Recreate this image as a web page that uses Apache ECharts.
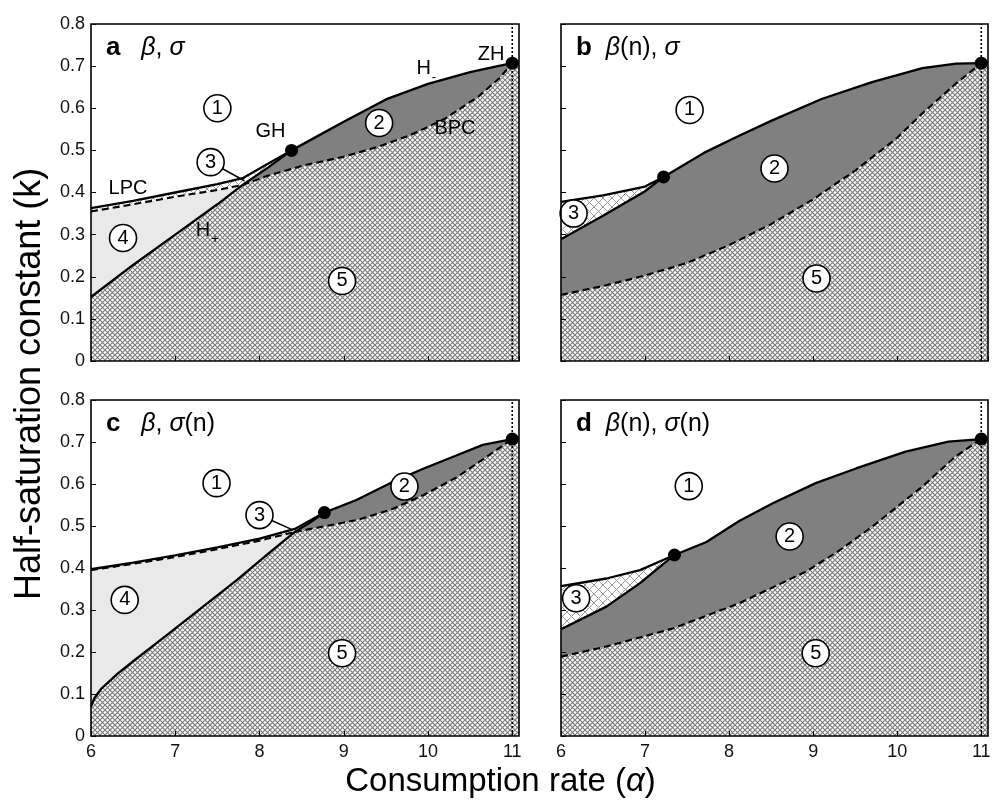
<!DOCTYPE html>
<html><head><meta charset="utf-8">
<script src="https://cdn.jsdelivr.net/npm/echarts@6/dist/echarts.min.js"></script>
<style>html,body{margin:0;padding:0;background:#fff}#c{width:1001px;height:803px}</style>
</head><body><div id="c"></div>
<script>
// ---------- tick labels ----------
const xTickLabels = ['6','7','8','9','10','11'];
const yTickLabels = ['0','0.1','0.2','0.3','0.4','0.5','0.6','0.7','0.8'];

// ---------- panel a : beta, sigma ----------
const aLPC       = [[6,0.363],[6.5,0.38],[7,0.40],[7.5,0.42],[7.8,0.434],[8.1,0.468],[8.38,0.50]];
const aHminus    = [[8.38,0.50],[8.7,0.535],[9.0,0.568],[9.5,0.621],[10.0,0.658],[10.5,0.686],[10.8,0.699],[11,0.707]];
const aHplusLow  = [[6,0.152],[6.5,0.228],[7,0.30],[7.5,0.372],[7.8,0.418]];
const aHplusHigh = [[7.8,0.418],[8.1,0.459],[8.38,0.50]];
const aLPCdash   = [[6,0.355],[6.5,0.372],[7,0.39],[7.5,0.406],[7.8,0.418]];
const aBPC       = [[7.8,0.418],[8.1,0.44],[8.5,0.463],[9,0.485],[9.4,0.508],[9.8,0.537],[10.2,0.575],[10.6,0.628],[10.85,0.672],[11,0.707]];
const aDots      = [[8.38,0.50],[11,0.707]];
const aCircles   = [[7.5,0.60,1],[9.42,0.565,2],[7.42,0.472,3],[6.38,0.292,4],[8.98,0.19,5]];
const aLeader    = [[7.42,0.472],[7.82,0.428]];
const aTexts     = [[8.13,0.545,'GH'],[6.44,0.41,'LPC'],[7.33,0.31,'H_+'],[9.95,0.694,'H_-'],[10.75,0.727,'ZH'],[10.32,0.553,'BPC']];

// ---------- panel b : beta(n), sigma ----------
const bLPC    = [[6,0.378],[6.5,0.393],[7,0.414],[7.22,0.437]];
const bHminus = [[7.22,0.437],[7.7,0.494],[8.1,0.533],[8.5,0.57],[9.1,0.622],[9.7,0.662],[10.3,0.695],[10.7,0.706],[11,0.707]];
const bHplus  = [[6,0.289],[6.5,0.345],[7,0.403],[7.22,0.437]];
const bBPC    = [[6,0.157],[6.5,0.178],[7,0.203],[7.5,0.233],[8,0.275],[8.5,0.325],[9,0.384],[9.5,0.452],[10,0.53],[10.3,0.588],[10.7,0.659],[11,0.707]];
const bDots   = [[7.22,0.437],[11,0.707]];
const bCircles= [[7.53,0.596,1],[8.54,0.457,2],[6.15,0.35,3],[9.04,0.196,5]];

// ---------- panel c : beta, sigma(n) ----------
const cLPC       = [[6,0.397],[6.5,0.413],[7,0.43],[7.5,0.449],[8,0.47],[8.42,0.493],[8.6,0.513],[8.77,0.532]];
const cHminus    = [[8.77,0.532],[9.15,0.562],[9.55,0.602],[9.95,0.637],[10.35,0.669],[10.65,0.693],[11,0.707]];
const cHplusLow  = [[6,0.07],[6.04,0.09],[6.12,0.112],[6.32,0.149],[6.52,0.181],[6.93,0.245],[7.33,0.308],[7.73,0.371],[8.14,0.44],[8.42,0.486]];
const cHplusHigh = [[8.42,0.486],[8.6,0.508],[8.77,0.532]];
const cLPCdash   = [[6,0.395],[6.5,0.41],[7,0.426],[7.5,0.445],[8,0.465],[8.42,0.486]];
const cBPC       = [[8.42,0.486],[8.74,0.498],[9.15,0.514],[9.55,0.538],[9.95,0.574],[10.35,0.617],[10.67,0.661],[11,0.707]];
const cDots      = [[8.77,0.532],[11,0.707]];
const cCircles   = [[7.49,0.602,1],[9.72,0.594,2],[8.0,0.526,3],[6.4,0.324,4],[8.98,0.197,5]];
const cLeader    = [[8.0,0.526],[8.38,0.492]];

// ---------- panel d : beta(n), sigma(n) ----------
const dLPC    = [[6,0.357],[6.54,0.375],[6.94,0.395],[7.35,0.431]];
const dHminus = [[7.35,0.431],[7.73,0.462],[8.12,0.512],[8.52,0.554],[9.03,0.602],[9.51,0.637],[10.1,0.677],[10.61,0.701],[11,0.707]];
const dHplus  = [[6,0.254],[6.54,0.308],[6.94,0.364],[7.35,0.431]];
const dBPC    = [[6,0.189],[6.54,0.213],[7.33,0.256],[8.12,0.316],[8.91,0.391],[9.3,0.44],[9.7,0.498],[10.3,0.594],[10.69,0.665],[11,0.707]];
const dDots   = [[7.35,0.431],[11,0.707]];
const dCircles= [[7.52,0.595,1],[8.72,0.475,2],[6.18,0.328,3],[9.03,0.197,5]];

const panelTitles = [
  '{L|a}{n|   }{g|β}{n|, }{g|σ}',
  '{L|b}{n|  }{g|β}{n|(n), }{g|σ}',
  '{L|c}{n|   }{g|β}{n|, }{g|σ}{n|(n)}',
  '{L|d}{n|  }{g|β}{n|(n), }{g|σ}{n|(n)}'
];

const X_MIN = 6, X_MAX = 11.08, Y_MIN = 0, Y_MAX = 0.8;
const FONT = '"Liberation Sans", Arial, Helvetica, sans-serif';

function mkPattern(size, color, lw) {
  const c = document.createElement('canvas'); c.width = c.height = size;
  const g = c.getContext('2d');
  g.fillStyle = '#fff'; g.fillRect(0, 0, size, size);
  g.strokeStyle = color; g.lineWidth = lw;
  g.beginPath();
  g.moveTo(-1, -1); g.lineTo(size + 1, size + 1);
  g.moveTo(size + 1, -1); g.lineTo(-1, size + 1);
  g.stroke();
  return { image: c, repeat: 'repeat' };
}
const FINE = mkPattern(5, '#7a7a7a', 1.1);
const COARSE = mkPattern(9, '#999', 1);
const LIGHT = '#e9e9e9';
const DARK = '#808080';

const rev = a => a.slice().reverse();
const grids = [
  { left: 91, top: 24, width: 428, height: 337 },
  { left: 561, top: 24, width: 427, height: 337 },
  { left: 91, top: 400, width: 428, height: 336 },
  { left: 561, top: 400, width: 427, height: 336 }
];

const series = [];
function addPoly(g, pts, fill) {
  series.push({
    type: 'custom', xAxisIndex: g, yAxisIndex: g, z: 1, silent: true, clip: true,
    data: [[pts[0][0], pts[0][1]]],
    renderItem: (p, api) => ({
      type: 'polygon',
      shape: { points: pts.map(q => api.coord(q)) },
      style: { fill: fill, lineWidth: 0, stroke: null }
    })
  });
}
function addLine(g, pts, type, width, z) {
  series.push({
    type: 'line', xAxisIndex: g, yAxisIndex: g, data: pts, symbol: 'none', showSymbol: false,
    silent: true, z: z || 4,
    lineStyle: { color: '#000', width: width || 2.3, type: type || 'solid' }
  });
}
function addDots(g, pts) {
  series.push({
    type: 'scatter', xAxisIndex: g, yAxisIndex: g, data: pts, symbol: 'circle', symbolSize: 13,
    silent: true, z: 5, itemStyle: { color: '#000', opacity: 1 }
  });
}
function addCircles(g, arr) {
  series.push({
    type: 'scatter', xAxisIndex: g, yAxisIndex: g, silent: true, z: 7, symbol: 'circle', symbolSize: 27,
    data: arr.map(c => ({ value: [c[0], c[1]], name: String(c[2]) })),
    itemStyle: { color: '#fff', borderColor: '#000', borderWidth: 1.6, opacity: 1 },
    label: { show: true, position: 'inside', formatter: '{b}', color: '#000', fontSize: 20, fontFamily: FONT, textBorderWidth: 0 }
  });
}
function addTexts(g, arr) {
  const data = [];
  arr.forEach(t => {
    if (t[2].indexOf('_') > 0) {
      const [m, s] = t[2].split('_');
      data.push({ value: [t[0], t[1]], name: m });
      data.push({ value: [t[0], t[1]], name: s, label: { fontSize: 13, offset: [s === '+' ? 12 : 10, 9] } });
    } else data.push({ value: [t[0], t[1]], name: t[2] });
  });
  series.push({
    type: 'scatter', xAxisIndex: g, yAxisIndex: g, silent: true, z: 7, symbolSize: 0,
    data: data, itemStyle: { color: '#000', opacity: 1 },
    label: { show: true, position: 'inside', formatter: '{b}', color: '#000', opacity: 1,
      textBorderWidth: 0, textBorderColor: 'transparent', fontSize: 20, fontFamily: FONT }
  });
}

// ---- panel a & c (same topology) ----
[[0, aLPC, aHminus, aHplusLow, aHplusHigh, aLPCdash, aBPC, aDots, aCircles, aLeader],
 [2, cLPC, cHminus, cHplusLow, cHplusHigh, cLPCdash, cBPC, cDots, cCircles, cLeader]].forEach(P => {
  const [g, LPC, Hm, HpL, HpH, LD, BPC, dots, circ, lead] = P;
  const zh = BPC[BPC.length - 1];
  addPoly(g, [[X_MIN, 0]].concat(HpL, BPC.slice(1), [[X_MAX, zh[1]], [X_MAX, 0]]), FINE);
  addPoly(g, LD.concat(rev(HpL)), LIGHT);
  addPoly(g, LPC.concat(rev(HpH), rev(LD)), COARSE);
  addPoly(g, HpH.concat(Hm.slice(1), rev(BPC)), DARK);
  addLine(g, [[11, Y_MIN], [11, Y_MAX]], [2, 2], 1.6, 3);
  addLine(g, LD, [7, 4], 2.1);
  addLine(g, BPC, [7, 4], 2.1);
  addLine(g, LPC);
  addLine(g, Hm);
  addLine(g, HpL.concat(HpH.slice(1)));
  addLine(g, lead, 'solid', 1.6, 6);
  addDots(g, dots);
  addCircles(g, circ);
});
// ---- panel b & d ----
[[1, bLPC, bHminus, bHplus, bBPC, bDots, bCircles],
 [3, dLPC, dHminus, dHplus, dBPC, dDots, dCircles]].forEach(P => {
  const [g, LPC, Hm, Hp, BPC, dots, circ] = P;
  const zh = BPC[BPC.length - 1];
  addPoly(g, [[X_MIN, 0]].concat(BPC, [[X_MAX, zh[1]], [X_MAX, 0]]), FINE);
  addPoly(g, Hp.concat(Hm.slice(1), rev(BPC)), DARK);
  addPoly(g, LPC.concat(rev(Hp)), COARSE);
  addLine(g, [[11, Y_MIN], [11, Y_MAX]], [2, 2], 1.6, 3);
  addLine(g, BPC, [7, 4], 2.1);
  addLine(g, LPC.concat(Hm.slice(1)));
  addLine(g, Hp);
  addDots(g, dots);
  addCircles(g, circ);
});
addTexts(0, aTexts);

const chart = echarts.init(document.getElementById('c'), null, { renderer: 'canvas' });
chart.setOption({
  animation: false,
  backgroundColor: '#fff',
  grid: grids.map(g => Object.assign({ show: true, z: 10, borderColor: '#000', borderWidth: 1.6, backgroundColor: 'transparent' }, g)),
  xAxis: grids.map((g, i) => ({
    type: 'value', gridIndex: i, min: X_MIN, max: X_MAX, interval: 1, z: 10,
    axisLine: { show: false },
    axisTick: { show: true, inside: true, length: 5, lineStyle: { color: '#000', width: 1 } },
    splitLine: { show: false },
    axisLabel: {
      show: i >= 2, margin: 7, fontSize: 18, color: '#111', fontFamily: FONT, showMaxLabel: false,
      formatter: v => { const k = Math.round(v - X_MIN); return Math.abs(v - Math.round(v)) < 1e-6 && xTickLabels[k] ? xTickLabels[k] : ''; }
    }
  })),
  yAxis: grids.map((g, i) => ({
    type: 'value', gridIndex: i, min: Y_MIN, max: Y_MAX, interval: 0.1, z: 10,
    axisLine: { show: false },
    axisTick: { show: true, inside: true, length: 5, lineStyle: { color: '#000', width: 1 } },
    splitLine: { show: false },
    axisLabel: {
      show: i % 2 === 0, margin: 6, fontSize: 18, color: '#111', fontFamily: FONT,
      formatter: v => yTickLabels[Math.round(v * 10)] || ''
    }
  })),
  graphic: panelTitles.map((t, i) => ({
    type: 'text', left: grids[i].left + 15, top: grids[i].top + 11, z: 20,
    style: {
      text: t,
      rich: {
        L: { fontWeight: 'bold', fontSize: 26, fontFamily: FONT, fill: '#000' },
        g: { fontStyle: 'italic', fontSize: 25, fontFamily: FONT, fill: '#000' },
        n: { fontSize: 25, fontFamily: FONT, fill: '#000' }
      }
    }
  })).concat([
    { type: 'text', left: 'center', top: 765, z: 20,
      style: { text: '{n|Consumption rate (}{g|α}{n|)}', rich: {
        n: { fontSize: 33, fontFamily: FONT, fill: '#000' },
        g: { fontSize: 33, fontFamily: FONT, fontStyle: 'italic', fill: '#000' } } } },
    { type: 'text', x: 12, y: 600, rotation: Math.PI / 2, z: 20,
      style: { text: 'Half-saturation constant (k)', fontSize: 36, fontFamily: FONT, fill: '#000', verticalAlign: 'top' } }
  ]),
  series: series
});
</script></body></html>
